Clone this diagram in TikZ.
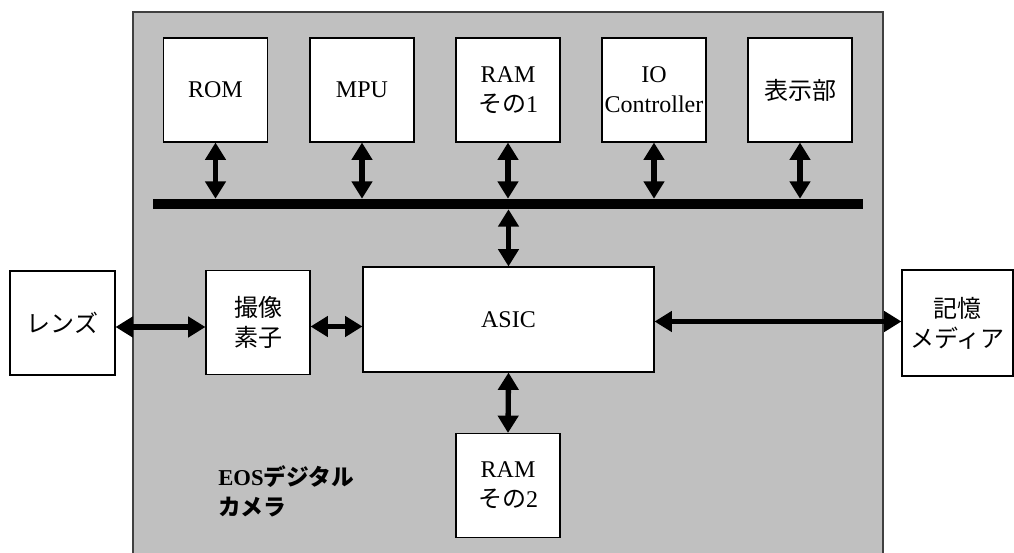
\documentclass[tikz,border=0pt]{standalone}
\usepackage{fontspec}
\setmainfont{Liberation Serif}
\newfontfamily\jp{Noto Sans CJK JP}
\usetikzlibrary{arrows.meta}
\definecolor{bggray}{HTML}{C0C0C0}
\definecolor{edgegray}{HTML}{404040}
\begin{document}
\begin{tikzpicture}[x=0.75pt,y=-0.75pt,
  box/.style={draw=black, line width=0.8pt, fill=white, minimum width=78pt, minimum height=78pt, inner sep=0pt, align=center, font=\fontsize{18}{22.5}\selectfont},
  bi/.style={line width=4pt, {Triangle[width=15pt,length=13pt]}-{Triangle[width=15pt,length=13pt]}}
]
\useasboundingbox (0,0) rectangle (1014,553);
\clip (0,0) rectangle (1014,553);
% camera body
\fill[bggray] (133,12) rectangle (883,570);
\draw[edgegray, line width=1.3pt] (133,570) -- (133,12) -- (883,12) -- (883,570);

% top row
\node[box] (rom) at (215.5,90) {ROM};
\node[box] (mpu) at (362,90) {MPU};
\node[box] (ram1) at (508,90) {RAM\\{\jp その}1};
\node[box] (io) at (654,90) {IO\\Controller};
\node[box] (disp) at (800,90) {\jp 表示部};

% bus
\node[fill=black, minimum width=532.5pt, minimum height=7.5pt, inner sep=0pt] (bus) at (508,204) {};

% middle row
\node[box, minimum width=78.75pt] (lens) at (62.5,323) {\jp レンズ};
\node[box] (sensor) at (258,322.5) {\jp 撮像\\\jp 素子};
\node[box, minimum width=218.25pt, minimum height=78.75pt] (asic) at (508.5,319.5) {ASIC};
\node[box, minimum width=83.25pt, minimum height=79.5pt] (media) at (957.5,323) {\jp 記憶\\\jp メディア};

% bottom
\node[box] (ram2) at (508,485.5) {RAM\\{\jp その}2};
\node[anchor=base west, align=left, inner sep=0pt, font=\fontsize{17}{22.5}\selectfont\bfseries] (label) at (218,515) {EOS{\jp デジタル}\\{\jp カメラ}};

% connectors
\foreach \n in {rom,mpu,ram1,io,disp}
  \draw[bi] (\n.south) -- (\n.south |- bus.north);
\draw[bi] (bus.south -| asic.north) -- (asic.north);
\draw[bi] (asic.south) -- (ram2.north);
\draw[bi] ([yshift=-3pt]lens.east) -- ([yshift=-3pt]lens.east -| sensor.west);
\draw[bi] ([yshift=-3pt]sensor.east) -- ([yshift=-3pt]sensor.east -| asic.west);
\draw[bi] ([yshift=-1.5pt]asic.east) -- ([yshift=-1.5pt]asic.east -| media.west);
\end{tikzpicture}
\end{document}
